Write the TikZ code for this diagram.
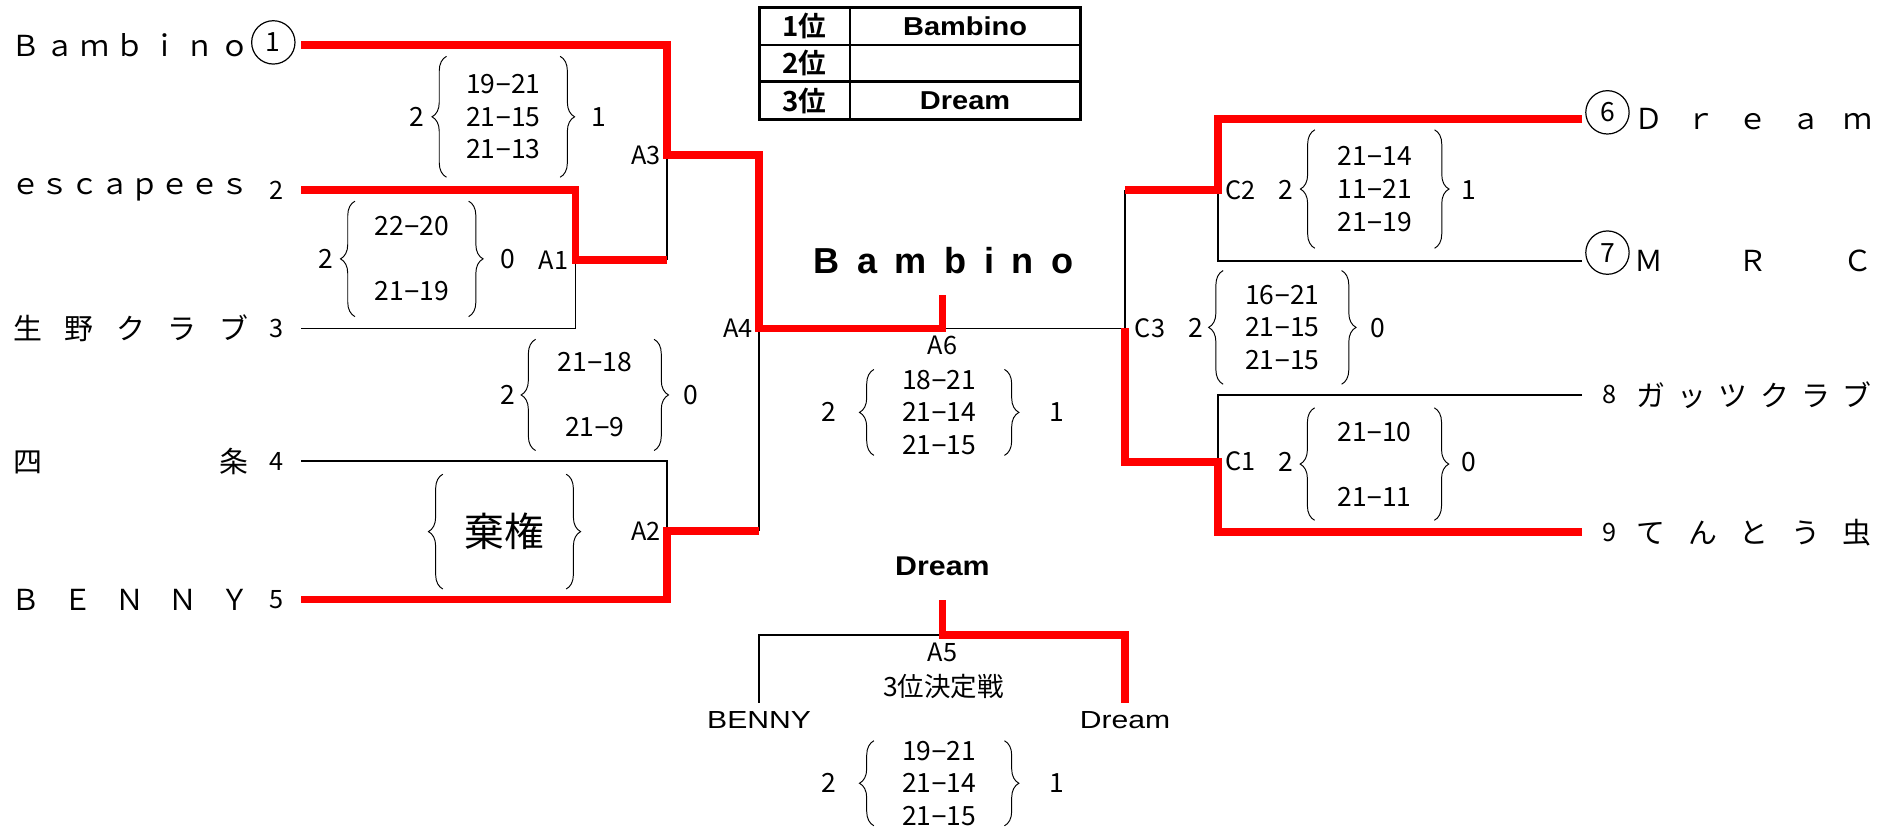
\documentclass[tikz,border=0pt]{standalone}
\usepackage{fontspec}
\setmainfont{Noto Sans CJK JP}[BoldFont={Noto Sans CJK JP Bold}]
\newfontfamily\latinsans{Liberation Sans}[FakeStretch=1.12]
\newfontfamily\latinwide{Liberation Sans}[FakeStretch=1.22]
\newfontfamily\latinplain{Liberation Sans}
\usetikzlibrary{decorations.pathreplacing, positioning}

\newcommand\spreadtext[2]{\hbox to #1{#2}}
\newcommand\mns{{\latinplain −}}

\tikzset{
	win/.style={draw=red, line width=6.4pt, line join=miter},
	lose/.style={draw=black, line width=1.2pt},
	brc/.style={decorate, decoration={brace, amplitude=12pt}, line width=0.8pt},
	scores/.style={align=center, inner sep=0pt, font=\fontsize{22}{27}\selectfont},
	pts/.style={inner sep=0pt, font=\fontsize{22}{26}\selectfont},
	lab/.style={inner sep=0pt, font=\fontsize{21}{25}\selectfont},
	team/.style={inner sep=0pt, anchor=west, font=\fontsize{24}{28}\selectfont},
	seed/.style={inner sep=0pt, font=\fontsize{21}{25}\selectfont},
	ring/.style={circle, draw, line width=1pt, minimum size=36pt, inner sep=0pt, font=\fontsize{22}{25}\selectfont},
	tbl/.style={inner sep=0pt, font=\fontsize{23}{26}\selectfont\bfseries},
}

\begin{document}
\begin{tikzpicture}[x=1pt,y=-1pt]
	\useasboundingbox (0,0) rectangle (1568,689);

	% Line ends and junctions
	\foreach \i/\y in {1/37.4,2/158,3/273,4/383,5/498}
		\coordinate (e\i) at (250,\y);
	\foreach \i/\y in {6/99,7/216.7,8/328,9/442}
		\coordinate (e\i) at (1314,\y);
	\coordinate (jA1) at (478,216);
	\coordinate (jA2) at (554,441);
	\coordinate (jA3) at (554,129);
	\coordinate (jA4) at (630.4,272.7);
	\coordinate (jA6) at (782.7,272.7);
	\coordinate (jA6w) at (782.7,245);
	\coordinate (jC1) at (1011.7,383.4);
	\coordinate (jC2) at (1011.7,157.8);
	\coordinate (jC3) at (934.4,272.7);
	\coordinate (jA5) at (782.7,527.4);
	\coordinate (jA5w) at (782.7,498.4);
	\coordinate (fBenny) at (630.4,583.6);
	\coordinate (fDream) at (934.4,583.6);

	% Losing lines
	\draw[lose] (jA3) -- (jA1 -| jA3);
	\draw[lose] (e3) -| (jA1);
	\draw[lose] (e4) -| (jA2);
	\draw[lose] (jA4) -- (jA2 -| jA4);
	\draw[lose] (jA6) -- (jC3) -- (jC2 -| jC3);
	\draw[lose] (jC2) |- (e7);
	\draw[lose] (e8) -| (jC1);
	\draw[lose] (jA5) -| (fBenny);

	% Winning lines
	\draw[win] (e1) -| (jA3) -| (jA4) -- (jA6) -- (jA6w);
	\draw[win] (e2) -| (jA1) -- (jA1 -| jA3);
	\draw[win] (e5) -| (jA2) -- (jA2 -| jA4);
	\draw[win] (e6) -| (jC2) -- (jC2 -| jC3);
	\draw[win] (e9) -| (jC1) -- (jC1 -| jC3) -- (jC3);
	\draw[win] (jA5w) -- (jA5) -| (fDream);

	% Teams, left
	\path (227,35.2) node[ring] (r1) {1};
	\path (9,37.4) node[team] (n1) {\spreadtext{198pt}{Ｂ\hfill ａ\hfill ｍ\hfill ｂ\hfill ｉ\hfill ｎ\hfill ｏ}};
	\path (9,158) node[team] (n2) {\spreadtext{198pt}{ｅ\hfill ｓ\hfill ｃ\hfill ａ\hfill ｐ\hfill ｅ\hfill ｅ\hfill ｓ}};
	\path (11,273) node[team] (n3) {\spreadtext{195pt}{生\hfill 野\hfill ク\hfill ラ\hfill ブ}};
	\path (11,383) node[team] (n4) {\spreadtext{195pt}{四\hfill 条}};
	\path (9,498) node[team] (n5) {\spreadtext{198pt}{Ｂ\hfill Ｅ\hfill Ｎ\hfill Ｎ\hfill Ｙ}};
	\foreach \i/\y in {2/158,3/273,4/383,5/498}
		\path (230,\y) node[seed] (s\i) {\i};

	% Teams, right
	\path (1335,93.3) node[ring] (r6) {6};
	\path (1335,209.8) node[ring] (r7) {7};
	\foreach \i/\y in {8/328,9/442}
		\path (1337,\y) node[seed] (s\i) {\i};
	\path (1357,99) node[team] (n6) {\spreadtext{198pt}{Ｄ\hfill ｒ\hfill ｅ\hfill ａ\hfill ｍ}};
	\path (1357,216.7) node[team] (n7) {\spreadtext{198pt}{Ｍ\hfill Ｒ\hfill Ｃ}};
	\path (1359,328) node[team] (n8) {\spreadtext{195pt}{ガ\hfill ッ\hfill ツ\hfill ク\hfill ラ\hfill ブ}};
	\path (1359,442) node[team] (n9) {\spreadtext{195pt}{て\hfill ん\hfill と\hfill う\hfill 虫}};

	% Match labels
	\path (jA1) node[lab, left=6pt] (lA1) {A1};
	\path (jA2) node[lab, left=5pt] (lA2) {A2};
	\path (jA3) node[lab, left=5pt] (lA3) {A3};
	\path (jA4) node[lab, left=5pt] (lA4) {A4};
	\path (jA6) node[lab, below=6pt] (lA6) {A6};
	\path (jA5) node[lab, below=6pt] (lA5) {A5};
	\path (jC1) node[lab, right=6pt] (lC1) {C1};
	\path (jC2) node[lab, right=6pt] (lC2) {C2};
	\path (jC3) node[lab, right=8pt] (lC3) {C3};

	% Scores
	\path (418,97) node[scores, minimum width=94pt, minimum height=100pt] (sA3) {19\mns21\\21\mns15\\21\mns13};
	\path (342,215) node[scores, minimum width=94pt, minimum height=95.5pt] (sA1) {22\mns20\\~\\21\mns19};
	\path (494,328) node[scores, minimum width=98pt, minimum height=92pt] (sA4) {21\mns18\\~\\21\mns9};
	\path (419,441.5) node[scores, minimum width=102pt, minimum height=95pt, font=\fontsize{33}{36}\selectfont] (sA2) {棄権};
	\path (780,342.5) node[scores, minimum width=108pt, minimum height=71pt] (sA6) {18\mns21\\21\mns14\\21\mns15};
	\path (780,650.5) node[scores, minimum width=108pt, minimum height=70pt] (sA5) {19\mns21\\21\mns14\\21\mns15};
	\path (1141.7,157) node[scores, minimum width=99pt, minimum height=98pt] (sC2) {21\mns14\\11\mns21\\21\mns19};
	\path (1065,271.9) node[scores, minimum width=98pt, minimum height=94pt] (sC3) {16\mns21\\21\mns15\\21\mns15};
	\path (1141.5,385.4) node[scores, minimum width=99pt, minimum height=93pt] (sC1) {21\mns10\\~\\21\mns11};
	\foreach \s in {sA1,sA2,sA3,sA4,sA5,sA6,sC1,sC2,sC3}{
		\draw[brc] (\s.south west) -- (\s.north west);
		\draw[brc] (\s.north east) -- (\s.south east);
	}
	\foreach \x/\y/\t [count=\k] in {346/97/2, 497/97/1, 271/215/2, 422/215/0, 422/328/2, 574/328/0,
			688/342/2, 877.6/342/1, 688/650/2, 877.6/650/1, 1068/157.8/2, 1219.6/157.8/1,
			993/272.6/2, 1144.4/272.6/0, 1068/383.4/2, 1220/383.4/0}
		\path (\x,\y) node[pts] (p\k) {\t};

	% Final and third place
	\path (783.5,216) node[inner sep=0pt, font=\latinplain\bfseries\fontsize{30}{34}\selectfont] (champ) {\spreadtext{216pt}{B\hfill a\hfill m\hfill b\hfill i\hfill n\hfill o}};
	\path (782.7,470) node[inner sep=0pt, font=\latinsans\bfseries\fontsize{22.5}{26}\selectfont] (third) {Dream};
	\path (783.5,570.4) node[lab, font=\fontsize{22}{26}\selectfont] (tmatch) {3位決定戦};
	\path (fBenny) node[below=7pt, inner sep=0pt, font=\latinwide\fontsize{20.5}{24}\selectfont] (tBenny) {BENNY};
	\path (fDream) node[below=7pt, inner sep=0pt, font=\latinwide\fontsize{20.5}{24}\selectfont] (tDream) {Dream};

	% Ranking table
	\draw[line width=2.4pt] (630.4,6) rectangle (897,99);
	\foreach \y in {37.4,67.8}
		\draw[line width=2pt] (630.4,\y) -- (897,\y);
	\draw[line width=2pt] (706,6) -- (706,99);
	\foreach \r/\nm [count=\i] in {1位/Bambino, 2位/, 3位/Dream}{
		\path (668,{6+31*(\i-0.5)}) node[tbl] (rank\i) {\r};
		\path (801.5,{6+31*(\i-0.5)}) node[tbl, font=\latinsans\bfseries\fontsize{21.5}{26}\selectfont] (place\i) {\nm};
	}
\end{tikzpicture}
\end{document}
